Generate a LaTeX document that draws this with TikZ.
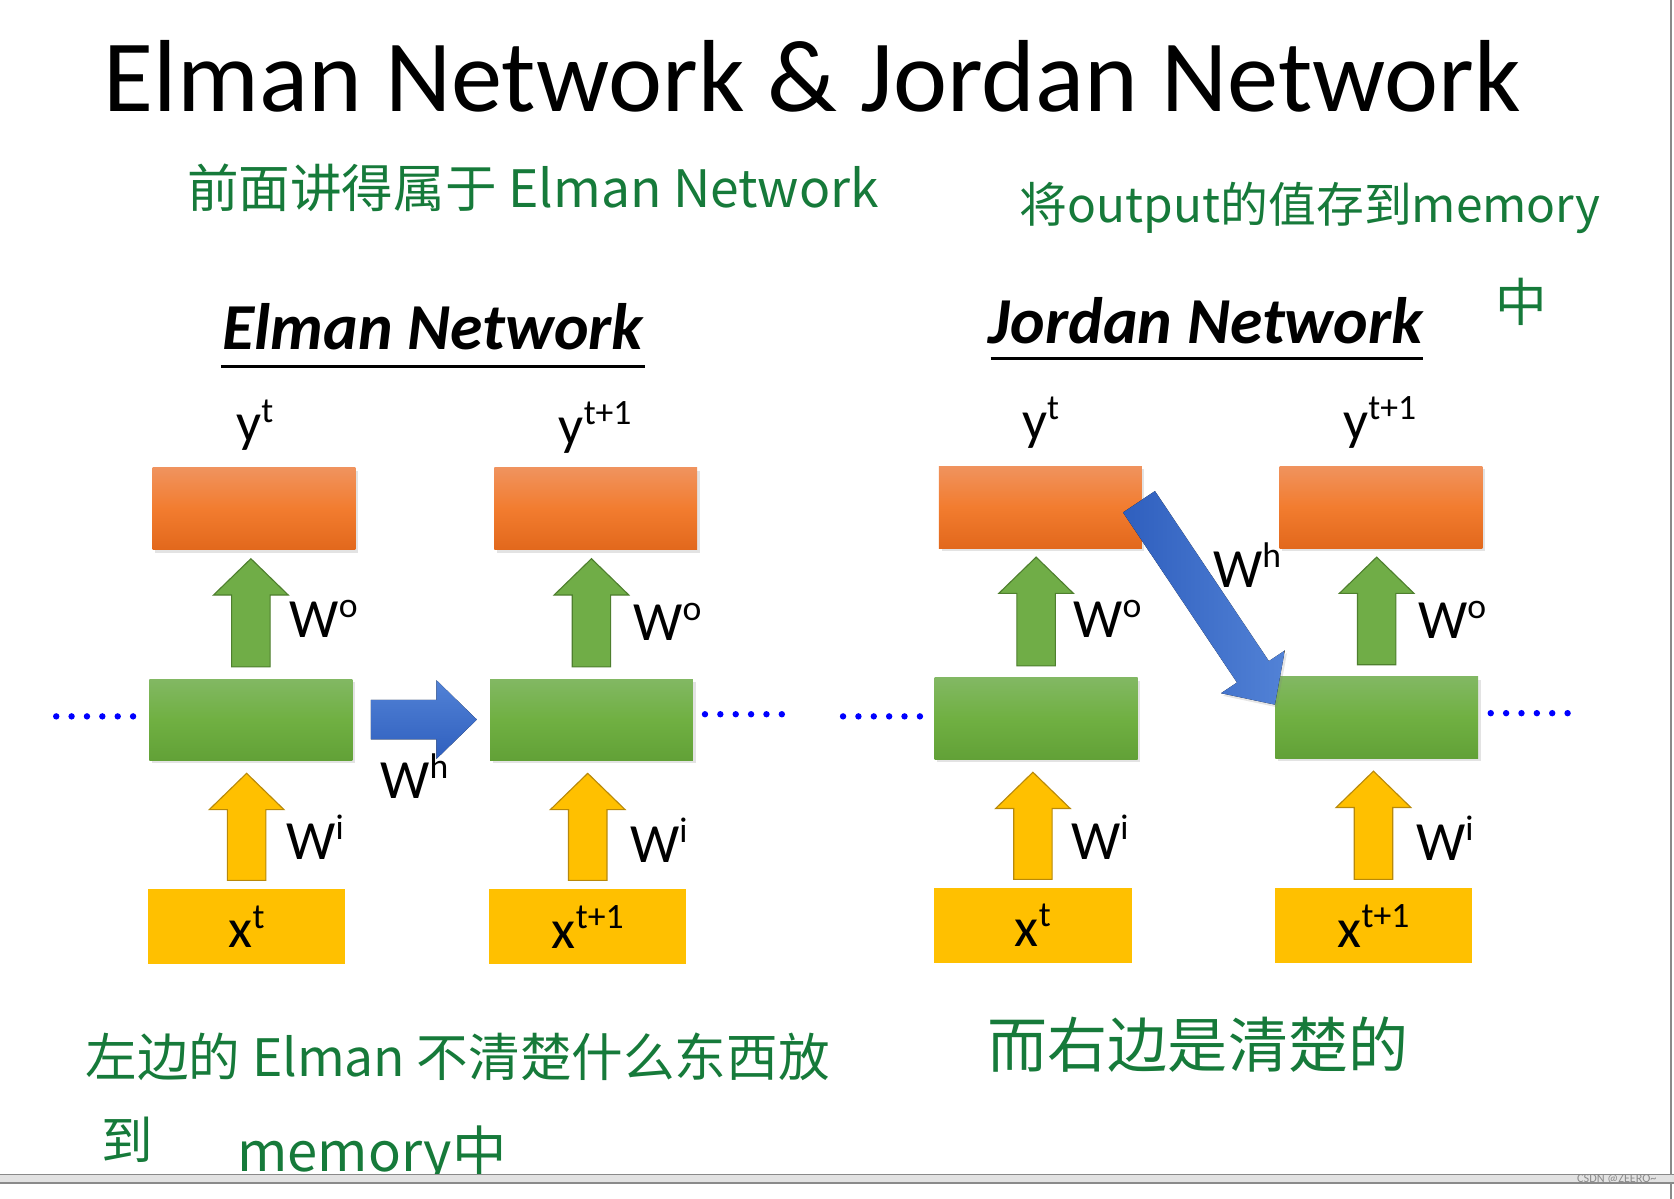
\documentclass[tikz,border=0pt]{standalone}
\usepackage{fontspec}
\setmainfont{Carlito}
\newfontfamily\cjkhand{Noto Sans CJK SC}
\usetikzlibrary{calc,shadows}
\definecolor{orT}{HTML}{F0935E}
\definecolor{orM}{HTML}{F27C2F}
\definecolor{orB}{HTML}{E2681C}
\definecolor{grT}{HTML}{82B863}
\definecolor{grM}{HTML}{70B042}
\definecolor{grB}{HTML}{62A137}
\definecolor{yel}{HTML}{FFC000}
\definecolor{arrG}{HTML}{70AD47}
\definecolor{arrGd}{HTML}{4E7F2E}
\definecolor{arrYd}{HTML}{B8890A}
\definecolor{bluT}{HTML}{5282D6}
\definecolor{bluB}{HTML}{2F5FBE}
\definecolor{hand}{RGB}{22,122,58}
\definecolor{barg}{HTML}{E2E2E2}
\definecolor{lineg}{HTML}{8A8A8A}
\newcommand\lab{\fontsize{29.5}{30}\selectfont}
\newcommand\sups[1]{\raisebox{0.36em}{\fontsize{19}{19}\selectfont #1}}
\newcommand\uparr[5]{%
  \coordinate (arB) at ($(#1.north)+(0,-#4)$);
  \coordinate (arT) at ($(#2.south)+(0,#5)$);
  \coordinate (arP) at (arB |- arT);
  \filldraw[#3] ($(arB)+(-18,0)$) -- ($(arP)+(-18,34)$) -- ($(arP)+(-35,34)$) -- (arP)
     -- ($(arP)+(35,34)$) -- ($(arP)+(18,34)$) -- ($(arB)+(18,0)$) -- cycle;}
\begin{document}
\begin{tikzpicture}[x=0.02cm,y=-0.02cm,
  boxshadow/.style={drop shadow={opacity=0.22,shadow xshift=0.05cm,shadow yshift=-0.06cm}},
  obox/.style={boxshadow,minimum width=3.8cm,minimum height=1.54cm,inner sep=0pt,
     top color=orT,bottom color=orB,middle color=orM},
  gbox/.style={boxshadow,minimum width=3.8cm,minimum height=1.52cm,inner sep=0pt,
     top color=grT,bottom color=grB,middle color=grM},
  ybox/.style={minimum width=3.7cm,minimum height=1.4cm,inner sep=0pt,fill=yel,font=\lab},
  garr/.style={fill=arrG,draw=arrGd,line width=0.6pt},
  yarr/.style={fill=yel,draw=arrYd,line width=0.6pt},
  barr/.style={top color=bluT,bottom color=bluB},
  darr/.style={left color=bluB,right color=bluT},
  wlab/.style={anchor=base west,inner sep=0pt,font=\lab},
  dots/.style={draw=blue,line width=0.12cm,line cap=round,dash pattern=on 0pt off 0.288cm},
  hand/.style={text=hand,inner sep=0pt,font=\cjkhand\fontsize{27.5}{29}\selectfont},
  heading/.style={anchor=base west,inner sep=0pt,font=\fontsize{35}{36}\selectfont\bfseries\itshape}]
\fill[white] (0,0) rectangle (1568,1123);
\useasboundingbox (0,0) rectangle (1568,1123);

% title
\node[anchor=base west,inner sep=0pt,font=\fontsize{54.6}{56}\selectfont] (title) at (97,104) {Elman Network \& Jordan Network};

% headings
\node[heading] (hE) at (208,327) {Elman Network};
\draw[line width=0.06cm] ($(hE.base west)+(-1,16)$) coordinate (uE1) -- ($(hE.base east)+(1,16)$) coordinate (uE2);
\node[heading] (hJ) at (926,322) {Jordan Network};
\draw[line width=0.06cm] ($(hJ.base west)+(2,14)$) coordinate (uJ1) -- ($(hJ.base east)+(0,14)$) coordinate (uJ2);

% Elman boxes
\node[obox] (o1) at (238,476.5) {};
\node[gbox] (g1) at (235,674) {};
\node[ybox] (x1) at (231,868) {x\sups{t}};
\node[obox] (o2) at (558,476.5) {};
\node[gbox] (g2) at (554,674) {};
\node[ybox] (x2) at (550.5,868) {x\sups{t+1}};
% Jordan boxes
\node[obox] (o3) at (974.5,475) {};
\node[gbox] (g3) at (970.5,673) {};
\node[ybox] (x3) at (967.5,867) {x\sups{t}};
\node[obox] (o4) at (1293.5,475) {};
\node[gbox] (g4) at (1289.5,672) {};
\node[ybox] (x4) at (1286.5,867) {x\sups{t+1}};

% y labels
\node[wlab] (ly1) at (221,414) {y\sups{t}};
\node[wlab] (ly2) at (523,416) {y\sups{t+1}};
\node[wlab] (ly3) at (957,412) {y\sups{t}};
\node[wlab] (ly4) at (1258,412) {y\sups{t+1}};

% up arrows
\uparr{g1}{o1}{garr}{11}{8}
\uparr{x1}{g1}{yarr}{8}{12}
\uparr{g2}{o2}{garr}{11}{8}
\uparr{x2}{g2}{yarr}{8}{12}
\uparr{g3}{o3}{garr}{11}{8}
\uparr{x3}{g3}{yarr}{8}{12}
\uparr{g4}{o4}{garr}{11}{8}
\uparr{x4}{g4}{yarr}{8}{12}

% W labels
\node[wlab] (wo1) at (271,597) {W\sups{o}};
\node[wlab] (wo2) at (593,600) {W\sups{o}};
\node[wlab] (wi1) at (268,805) {W\sups{i}};
\node[wlab] (wi2) at (590,808) {W\sups{i}};
\node[wlab] (wo3) at (1005,597) {W\sups{o}};
\node[wlab] (wo4) at (1328,598) {W\sups{o}};
\node[wlab] (wi3) at (1003,805) {W\sups{i}};
\node[wlab] (wi4) at (1326,806) {W\sups{i}};
\node[wlab] (wh1) at (356,748) {W\sups{h}};
\node[wlab] (wh2) at (1136,550) {W\sups{h}};

% Elman horizontal arrow
\coordinate (hS) at ($(g1.east)+(17,0)$);
\coordinate (hP) at ($(g2.west)+(-12,0)$);
\fill[barr] ($(hS)+(0,-18.5)$) -- ($(hP)+(-38,-18.5)$) -- ($(hP)+(-38,-37)$) -- (hP)
   -- ($(hP)+(-38,37)$) -- ($(hP)+(-38,18.5)$) -- ($(hS)+(0,18.5)$) -- cycle;

% Jordan diagonal arrow
\coordinate (whT) at ($(o3.east)+(-3,-5)$);
\coordinate (whP) at ($(g4.west)+(0,-12)$);
\coordinate (whB) at ($(whP)!0.74cm!(whT)$);
\fill[darr,drop shadow={opacity=0.2,shadow xshift=0.04cm,shadow yshift=-0.05cm}]
   ($(whT)!0.36cm!90:(whP)$) -- ($(whB)!0.36cm!90:(whP)$) -- ($(whB)!0.72cm!90:(whP)$) -- (whP)
   -- ($(whB)!0.72cm!-90:(whP)$) -- ($(whB)!0.36cm!-90:(whP)$) -- ($(whT)!0.36cm!-90:(whP)$) -- cycle;

% dotted continuations
\draw[dots] ($(g1.west)+(-87,-3)$) coordinate (d1s) -- ($(g1.west)+(-14,-3)$) coordinate (d1e);
\draw[dots] ($(g2.east)+(11,-5)$) coordinate (d2s) -- ($(g2.east)+(84,-5)$) coordinate (d2e);
\draw[dots] ($(g3.west)+(-85.5,-2)$) coordinate (d3s) -- ($(g3.west)+(-12.5,-2)$) coordinate (d3e);
\draw[dots] ($(g4.east)+(11.5,-4)$) coordinate (d4s) -- ($(g4.east)+(84.5,-4)$) coordinate (d4e);

% handwritten notes
\node[hand,anchor=west] (n1) at (175,176) {前面讲得属于 Elman Network};
\node[hand,anchor=west,font=\cjkhand\fontsize{25.5}{27}\selectfont] (n2) at (955,195) {将output的值存到memory};
\node[hand] (n3) at (1425,283) {中};
\node[hand,anchor=west] (n4) at (80,990) {左边的 Elman 不清楚什么东西放};
\node[hand,anchor=west] (n5) at (95,1068) {到};
\node[hand,anchor=west,font=\cjkhand\fontsize{29}{30}\selectfont] (n6) at (222,1082) {memory中};
\node[hand,anchor=west,font=\cjkhand\fontsize{32}{33}\selectfont] (n7) at (925,978) {而右边是清楚的};

% window frame
\draw[lineg,line width=0.04cm] (1565,0) coordinate (fr1) -- (1565,1123) coordinate (fr2);
\filldraw[fill=barg,draw=lineg,line width=0.03cm] (-2,1100) rectangle (1570,1108);
\node[anchor=east,inner sep=0pt,text=lineg,font=\fontsize{6.5}{7}\selectfont] (wm) at (1552,1104.5) {CSDN @ZEERO\textasciitilde};
\end{tikzpicture}
\end{document}
